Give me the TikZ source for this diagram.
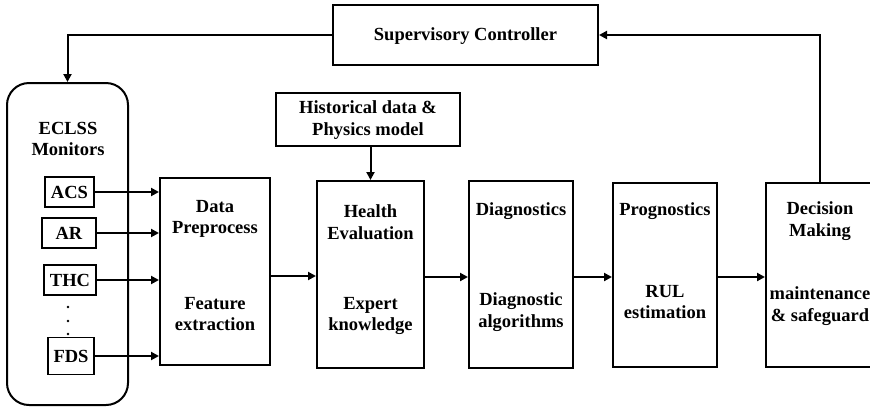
\documentclass[tikz,border=0pt]{standalone}
\usepackage{fontspec}
\setmainfont{Liberation Serif}
\usepackage{tikz}
\usetikzlibrary{arrows.meta}
\tikzset{
    block/.style={draw,line width=2pt,inner sep=0pt},
    sensor/.style={draw,line width=1.6pt,inner sep=0pt,minimum height=30pt,font=\bfseries\fontsize{18.5}{21.5}\selectfont},
    label_txt/.style={font=\bfseries\fontsize{18.5}{21.5}\selectfont,align=center,inner sep=0pt},
    flow/.style={-{Triangle[length=8pt,width=8pt]},line width=2pt},
}

\begin{document}
\begin{tikzpicture}[x=1pt,y=-1pt]
  \useasboundingbox (0,0) rectangle (870,408);
  % Draw main blocks
  \node[block,minimum width=265pt,minimum height=60pt] (sup_ctrl) at (465.5,35) {};
  \node[block,minimum width=184pt,minimum height=53pt] (hist_data) at (368,119.5) {};
  \node[block,rounded corners=22pt,minimum width=121pt,minimum height=322pt] (eclss) at (67.5,244) {};
  \node[block,minimum width=110pt,minimum height=187pt] (data_prep) at (215,271.5) {};
  \node[block,minimum width=107pt,minimum height=187pt] (health_eval) at (370.5,274.5) {};
  \node[block,minimum width=104pt,minimum height=187pt] (diag) at (521,274.5) {};
  \node[block,minimum width=104pt,minimum height=184pt] (prog) at (665,275) {};
  \node[block,minimum width=110pt,minimum height=184pt] (decision) at (821,275) {};
  % Draw sensor boxes
  \node[sensor,minimum width=49pt] (acs) at (69.5,192) {ACS};
  \node[sensor,minimum width=54pt] (ar) at (69,233) {AR};
  \node[sensor,minimum width=52pt] (thc) at (70,280) {THC};
  \node[sensor,minimum width=46pt,minimum height=37pt] (fds) at (71,356) {FDS};
  \fill (68,307) circle (1.4pt);
  \fill (68,321) circle (1.4pt);
  \fill (68,334) circle (1.4pt);
  % Block texts
  \node[label_txt] (sup_txt) at (465.5,36) {Supervisory Controller};
  \node[label_txt] (hist_txt) at (368,120) {Historical data \&\\Physics model};
  \node[label_txt] (eclss_txt) at (68,139) {ECLSS\\Monitors};
  \node[label_txt] (dp_top) at (215,219) {Data\\Preprocess};
  \node[label_txt] (dp_bot) at (215,314) {Feature\\extraction};
  \node[label_txt] (he_top) at (370.5,222) {Health\\Evaluation};
  \node[label_txt] (he_bot) at (370.5,316) {Expert\\knowledge};
  \node[label_txt] (dg_top) at (521,211) {Diagnostics};
  \node[label_txt] (dg_bot) at (521,312) {Diagnostic\\algorithms};
  \node[label_txt] (pg_top) at (665,211) {Prognostics};
  \node[label_txt] (pg_bot) at (665,302) {RUL\\estimation};
  \node[label_txt] (dm_top) at (820,221) {Decision\\Making};
  \node[label_txt] (dm_bot) at (820,306) {maintenance\\\& safeguard};
  % Sensor inputs
  \draw[flow] (acs.east) -- (acs.east -| data_prep.west);
  \draw[flow] (ar.east) -- (ar.east -| data_prep.west);
  \draw[flow] (thc.east) -- (thc.east -| data_prep.west);
  \draw[flow] (fds.east) -- (fds.east -| data_prep.west);
  % Main chain
  \draw[flow] (data_prep.east |- 0,276) -- (health_eval.west |- 0,276);
  \draw[flow] (health_eval.east |- 0,277) -- (diag.west |- 0,277);
  \draw[flow] (diag.east |- 0,277) -- (prog.west |- 0,277);
  \draw[flow] (prog.east |- 0,277) -- (decision.west |- 0,277);
  \draw[flow] (hist_data.south -| health_eval.north) -- (health_eval.north);
  % Feedback loop
  \draw[flow] (decision.north -| 820,0) |- (sup_ctrl.east);
  \draw[flow] (sup_ctrl.west) -| (eclss.north);
\end{tikzpicture}
\end{document}
